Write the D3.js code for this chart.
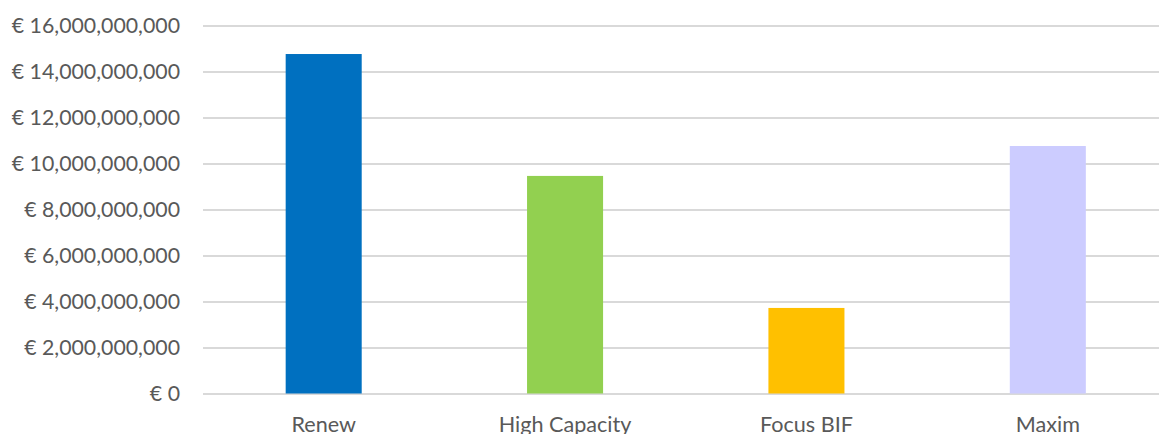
<!DOCTYPE html>
<html>
<head>
<meta charset="utf-8">
<script src="https://cdn.jsdelivr.net/npm/d3@7"></script>
<style>
html,body{margin:0;padding:0;background:#fff;overflow:hidden;}
svg{display:block;}
text{font-family:Lato,"Open Sans",sans-serif;fill:#595959;}
</style>
</head>
<body>
<svg id="chart" width="1159" height="434"></svg>
<script>
const categories = ["Renew", "High Capacity", "Focus BIF", "Maxim"];
const values = [14760000000, 9460000000, 3720000000, 10760000000];
const colors = ["#0070C0", "#92D050", "#FFC000", "#CCCCFF"];
const yTicks = [0, 2000000000, 4000000000, 6000000000, 8000000000, 10000000000, 12000000000, 14000000000, 16000000000];

const svg = d3.select("#chart");
const x = d3.scaleBand().domain(categories).range([203, 1168.5]).paddingInner(0.685).paddingOuter(0.3425);
const y = d3.scaleLinear().domain([0, 16000000000]).range([393.5, 25.5]);
const fmt = v => "€ " + d3.format(",")(v);

const yAxis = svg.append("g").attr("transform", "translate(203,0)")
  .call(d3.axisLeft(y).tickValues(yTicks).tickFormat(fmt).tickSize(-960).tickPadding(23));
yAxis.select(".domain").remove();
yAxis.selectAll(".tick line").attr("stroke", "#d9d9d9").attr("stroke-width", 2);
yAxis.selectAll(".tick text").attr("font-size", 21.3).attr("fill", "#595959").attr("font-family", "Lato");

svg.append("g").selectAll("rect").data(categories).join("rect")
  .attr("x", d => x(d))
  .attr("width", x.bandwidth())
  .attr("y", (d, i) => y(values[i]))
  .attr("height", (d, i) => y(0) - y(values[i]))
  .attr("fill", (d, i) => colors[i]);

const xAxis = svg.append("g").attr("transform", "translate(0,393.5)")
  .call(d3.axisBottom(x).tickSize(0).tickPadding(23));
xAxis.select(".domain").remove();
xAxis.selectAll(".tick text").attr("font-size", 21.6).attr("fill", "#595959").attr("font-family", "Lato");
</script>
</body>
</html>
